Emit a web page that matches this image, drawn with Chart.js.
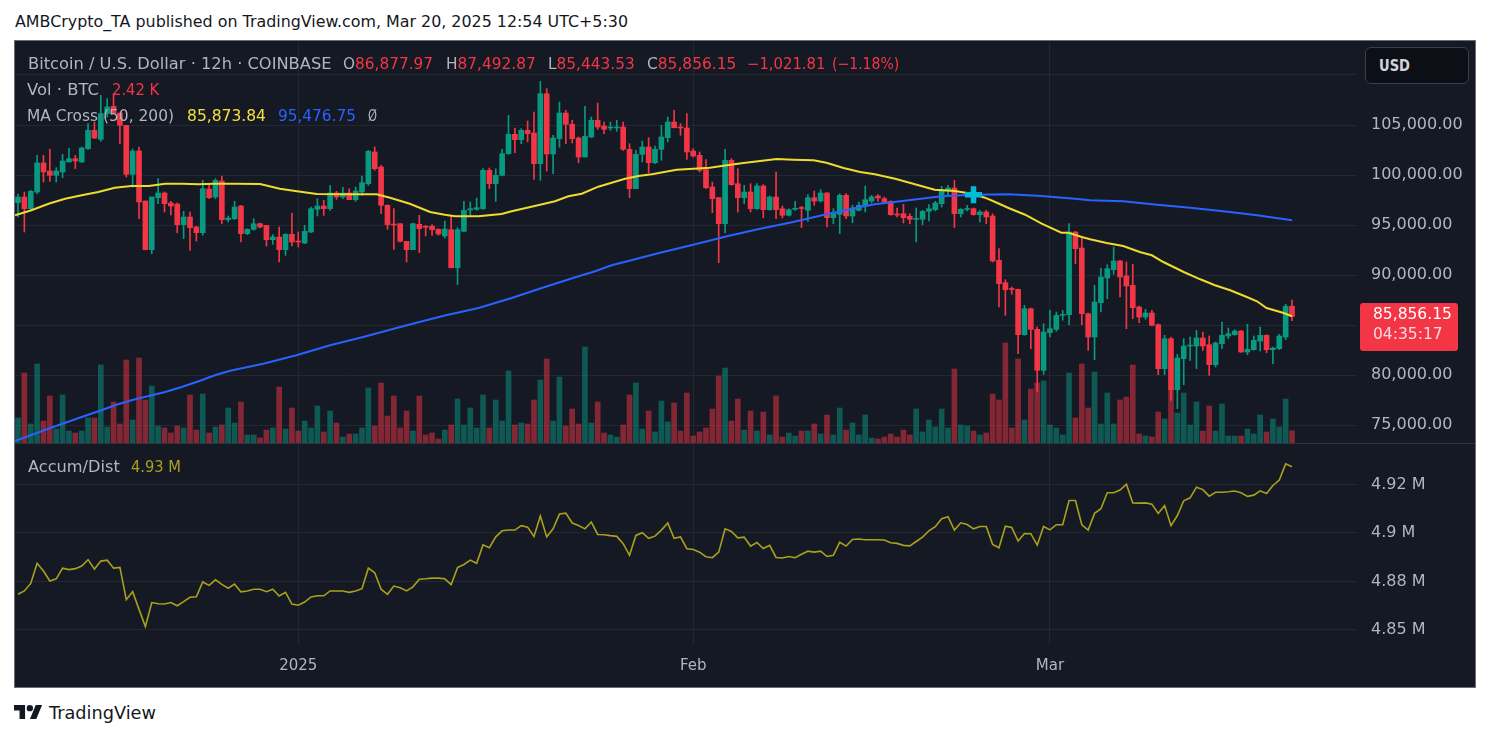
<!DOCTYPE html>
<html><head><meta charset="utf-8"><title>Bitcoin / U.S. Dollar 12h</title>
<script src="https://cdn.jsdelivr.net/npm/chart.js"></script>
<style>
html,body{margin:0;padding:0;background:#ffffff;}
body{width:1491px;height:740px;position:relative;overflow:hidden;font-family:"DejaVu Sans",sans-serif;}
.t{position:absolute;white-space:nowrap;line-height:1;transform-origin:0 50%;}
#frame{position:absolute;left:14px;top:40px;width:1462px;height:648px;box-sizing:border-box;border:1px solid #6a6d75;background:#151924;}
#c1{position:absolute;left:15px;top:42px;}
#c2{position:absolute;left:15px;top:443px;}
#sep{position:absolute;left:15px;top:443px;width:1460px;height:1px;background:#2f3340;}
#usd{position:absolute;left:1365px;top:47px;width:104px;height:37px;box-sizing:border-box;border:1px solid #3b3f4b;border-radius:6px;background:#0d0f16;}
</style></head><body>
<div id="frame"></div>
<canvas id="c1" width="1460" height="401"></canvas>
<canvas id="c2" width="1460" height="244"></canvas>
<div id="sep"></div>
<div id="usd"></div>
<svg style="position:absolute;left:14px;top:705px" width="28.5" height="14.3" viewBox="0 4 36 18"><path d="M14 22H7V11H0V4h14v18zM28 22h-8l7.5-18h8L28 22z" fill="#131722"/><circle cx="20" cy="8" r="4" fill="#131722"/></svg>
<script>
// ---------------- DATA ----------------
// 12h candles, index 0 = 10 Dec 2024 00:00 UTC ... index 200 = 20 Mar 2025 00:00 UTC
const open = [97230,97800,96630,98300,101200,100400,99970,100300,101300,101630,
101300,102630,104470,103570,106130,106870,106200,104970,100070,102400,
97400,92530,97730,98200,97200,97100,95030,95800,94800,94230,
98600,97800,99400,95530,95630,96900,94130,94570,95130,94970,
93530,93800,92530,94070,93370,93200,94300,96570,96900,96630,
98200,97800,98200,97530,98300,99130,102300,100800,96970,95070,
95130,93370,92530,95070,94800,94870,94570,93900,94530,90730,
94370,96500,96570,96630,100470,99130,99970,102130,104070,103530,
104470,104200,101130,108130,102100,103630,106200,105070,103700,101800,
103800,105470,104900,104700,104700,104800,102570,98630,102070,102800,
101230,102570,103730,105300,104730,104700,102400,101970,100530,98800,
97730,95130,101470,99130,97730,98300,96630,98900,96530,97800,
96630,95970,96570,96700,96470,97730,97400,98200,95730,96070,
97970,95900,96470,96870,97400,97900,97630,97370,96100,96130,
95870,95570,95570,96370,96530,97130,98400,98700,96130,96550,
96630,96030,96300,95900,91470,89230,88600,88570,84030,86630,
84570,80470,84230,84570,85970,86030,94300,92700,86130,83800,
87230,89700,90530,91400,89900,88970,86800,85800,86200,85030,
80630,83630,78530,81630,82900,82900,83700,83030,81030,83130,
83900,84030,84400,82300,82530,83400,83970,82530,82630,83800,
86877.97];
const high = [98100,98300,98470,101970,101970,102570,100730,102070,102700,101970,
102800,105130,105300,107970,107630,108130,106200,104970,102600,102800,
97400,97800,99630,98300,97370,97200,96370,96300,94870,99470,
99130,99630,99900,95900,97370,96970,94630,95630,95200,94970,
94030,94800,94130,96200,94300,94970,96800,97630,97470,98970,
98370,98770,98630,98800,99900,102470,102800,100970,97030,96630,
95130,93370,95200,95970,94970,95030,94630,95400,95970,94730,
97370,97300,97700,100630,100700,100630,102570,105970,104700,104630,
105400,106300,109370,108630,103970,107300,106470,105470,103800,106870,
105800,107200,105300,105300,105470,105300,103130,102470,103400,103730,
102900,104970,105800,106470,105130,106130,102630,102300,101530,99300,
97730,102570,101630,100630,98970,99130,99130,99030,97900,100300,
96900,96630,97370,96870,98030,98400,98530,98250,96630,98130,
98130,96970,97300,98900,97970,98030,97800,97430,96700,97070,
96130,96700,96470,97030,97370,98870,98970,99470,96630,96970,
96700,96470,96470,96130,92630,89530,88800,88600,86970,86700,
84800,85130,86470,86300,86470,95130,94370,93800,86200,88970,
90700,91030,92800,91470,91300,91070,86900,86570,86470,85130,
83970,83800,82070,83630,83800,84470,84300,83900,83300,85300,
84700,84530,84450,85070,83900,84800,84030,82800,84070,87070,
87492.87];
const low = [95800,94300,96470,98130,99300,99370,99300,99730,101300,100630,
101230,102570,103630,103370,105800,106130,103130,99800,98800,95630,
92500,92130,97130,96300,96000,94230,93630,92470,93400,93970,
97630,97630,95130,95300,95530,93300,94030,94470,94700,92900,
93070,91300,91970,92900,92800,93130,94230,95900,95970,96470,
97570,97630,97530,97370,97970,98970,100470,96130,94570,92570,
93300,91300,92530,92230,93900,93970,93970,93700,90700,89030,
94300,95970,96470,96570,98630,97370,99900,102070,102230,103130,
103300,99570,99470,100400,100130,102770,103130,103200,101230,101800,
103730,104570,104130,104470,104370,102470,97730,98630,101300,100230,
101130,101470,103300,104700,103970,101570,101800,100300,98630,96230,
91230,94230,98970,96300,97130,96300,96570,95730,96470,95630,
95700,95900,96470,94730,95370,96970,97300,94800,95130,94130,
95630,95230,96400,96300,97200,97370,97200,95970,95800,95200,
95130,93300,95030,95400,96400,96800,98030,94730,95800,96400,
95970,95300,95130,91300,86800,85970,88070,82130,83970,82630,
78300,80070,83800,84370,85470,85030,91130,85030,82470,81530,
86300,87630,90070,87800,84630,85630,85230,85570,84900,80030,
80030,77470,76630,79030,81470,80630,82470,79970,80800,82630,
83630,83970,82250,82030,82470,82400,82230,81130,82530,83530,
85443.53];
const close = [97800,96630,98370,101200,100300,99970,100400,101400,101630,101400,
102700,104470,103700,106130,106800,106230,104970,100070,102400,97300,
92530,97800,98200,97130,96900,95030,95800,94730,94230,98630,
97730,99470,95530,95700,96800,94130,94570,95130,94800,93530,
93800,92530,94070,93300,93300,94370,96630,96900,96630,98200,
97800,98200,97530,98400,99230,102370,100630,96970,95030,95000,
93370,92530,95130,94630,94770,94530,94100,94600,90730,94530,
96470,96630,96730,100470,99130,99970,102130,104070,103530,104470,
104130,101130,108130,102100,103700,106200,105070,103630,101800,103870,
105470,104800,104570,104750,104770,102570,98630,102070,102800,101230,
102570,103800,105300,104730,104700,102300,101900,100470,98730,97630,
95130,101470,99030,97730,98300,96630,98900,96530,97800,96530,
95970,96530,96630,96650,97730,97400,98200,95730,96200,97970,
95900,96700,96970,97530,97800,97700,97300,96030,96000,95730,
95570,95600,96370,96630,97200,98400,98700,96130,96570,96600,
96030,96300,95800,91400,89130,88530,88550,84030,86630,84570,
80470,84300,84630,85970,86030,94300,92630,86130,83800,87300,
89800,90630,91400,89800,88900,86730,85800,86200,84970,80630,
83630,78530,81700,82900,82970,83700,82900,81030,83200,83970,
84130,84400,82300,82570,83470,83970,82530,82700,83900,86877.96,
85856.15];
// volume, thousand BTC
const volume = [5.0,14.0,3.8,15.8,4.4,9.4,2.8,9.6,2.4,2.0,
2.4,5.0,5.0,15.6,3.2,8.2,3.8,16.6,4.6,17.0,
8.6,11.4,3.4,3.0,2.0,3.4,3.0,9.6,2.6,9.8,
2.0,3.2,3.6,7.0,4.0,8.2,1.6,1.6,1.0,2.6,
3.0,11.2,2.8,7.0,2.4,4.4,3.0,7.4,2.2,6.4,
4.0,1.2,1.8,1.8,3.0,11.0,3.4,12.0,5.4,9.4,
3.0,6.4,2.4,9.4,1.6,2.0,0.8,2.6,3.6,8.8,
3.6,7.0,3.0,9.6,3.0,8.6,4.4,14.4,3.6,4.0,
3.8,8.6,12.6,16.8,4.4,13.2,3.4,6.8,3.8,19.2,
4.0,8.2,2.0,1.6,1.2,3.6,9.6,12.0,2.8,6.4,
2.2,8.4,4.2,8.0,2.4,10.0,1.4,2.2,3.0,6.8,
13.4,15.0,4.4,8.8,2.6,6.4,2.4,6.2,1.6,9.4,
1.2,2.0,1.4,2.4,2.4,3.8,1.8,5.6,1.6,7.0,
2.6,4.0,1.6,5.6,1.0,0.8,1.2,1.8,1.2,2.6,
1.6,6.8,2.2,4.6,3.2,6.8,3.0,14.8,3.6,3.4,
2.4,1.6,2.0,9.8,8.6,20.0,3.0,16.8,4.6,10.8,
12.0,12.4,3.6,3.0,1.6,14.0,5.0,15.8,7.0,14.2,
3.8,10.0,3.8,8.6,9.2,15.6,1.8,1.4,1.2,6.2,
4.8,11.0,6.0,10.0,3.6,8.2,2.4,7.4,2.4,7.8,
1.4,1.4,1.4,2.8,1.8,5.6,2.2,4.8,3.2,8.8,
2.42];
// Accumulation/Distribution, millions
const accDist = [4.8747,4.8761,4.8792,4.8875,4.8843,4.8802,4.8811,4.8855,4.8849,4.8853,
4.8864,4.8890,4.8851,4.8884,4.8888,4.8855,4.8858,4.8725,4.8758,4.8685,
4.8614,4.8713,4.8708,4.8707,4.8713,4.8700,4.8717,4.8735,4.8737,4.8798,
4.8784,4.8807,4.8788,4.8772,4.8789,4.8757,4.8761,4.8768,4.8768,4.8758,
4.8768,4.8740,4.8755,4.8707,4.8702,4.8715,4.8736,4.8741,4.8741,4.8761,
4.8761,4.8761,4.8755,4.8761,4.8770,4.8855,4.8836,4.8768,4.8747,4.8781,
4.8774,4.8761,4.8778,4.8809,4.8811,4.8814,4.8814,4.8811,4.8787,4.8857,
4.8870,4.8888,4.8875,4.8951,4.8939,4.8984,4.9009,4.9012,4.9012,4.9030,
4.9024,4.8986,4.9070,4.8984,4.9017,4.9078,4.9082,4.9041,4.9031,4.9017,
4.9045,4.8994,4.8993,4.8989,4.8986,4.8956,4.8908,4.8990,4.9001,4.8978,
4.8987,4.9012,4.9041,4.8978,4.8984,4.8935,4.8932,4.8921,4.8902,4.8898,
4.8921,4.9017,4.9006,4.8980,4.8983,4.8946,4.8961,4.8936,4.8949,4.8899,
4.8897,4.8903,4.8898,4.8912,4.8925,4.8921,4.8925,4.8903,4.8908,4.8962,
4.8946,4.8973,4.8975,4.8972,4.8972,4.8972,4.8971,4.8960,4.8957,4.8949,
4.8947,4.8965,4.8983,4.9009,4.9026,4.9059,4.9067,4.9012,4.9042,4.9035,
4.9017,4.9027,4.9027,4.8953,4.8939,4.9028,4.9023,4.8967,4.8998,4.8997,
4.8950,4.9027,4.9013,4.9034,4.9034,4.9134,4.9134,4.9034,4.9012,4.9081,
4.9100,4.9166,4.9166,4.9177,4.9201,4.9124,4.9123,4.9124,4.9119,4.9081,
4.9113,4.9030,4.9072,4.9133,4.9145,4.9189,4.9179,4.9152,4.9168,4.9168,
4.9170,4.9173,4.9166,4.9151,4.9156,4.9174,4.9163,4.9196,4.9218,4.9285,
4.9273];
// MA(50) and MA(200) at candle positions
const ma50Idx = [-0.47,2.1,4.8,7.4,10,12.6,15.2,17.8,20.5,23.1,25.7,28.3,30.9,34,38,41.1,43.8,46.9,51.6,56.3,58.4,61.5,64.7,67,68.6,72.3,75.9,77.5,80.6,84.3,86.4,88.5,91.1,93.2,95.3,97.4,99.5,103.4,106,108.6,111.3,113.9,116.5,119.1,121.7,124.9,126.9,129.6,132.2,134.5,137.7,140.8,143.9,147.1,149.7,151.8,153.4,155.5,158.1,160.7,163.8,164.9,167,168.3,170.9,173.5,176.1,178,179.8,183,185.6,187.9,190.3,192.9,194.5,196,198.7,200];
const ma50Val = [95970,96470,97130,97630,97970,98300,98730,98900,98900,99130,99130,99070,99130,99130,99100,98630,98370,98100,98070,98070,97730,97130,96300,96030,95870,95870,96100,96370,96830,97370,97870,98130,98830,99230,99630,99900,100070,100530,100630,100730,100970,101200,101400,101600,101530,101470,101230,100700,100300,100070,99630,99070,98530,98400,98130,97730,97300,96700,96030,95130,94230,94230,93800,93570,93200,92900,92300,91970,91300,90300,89570,88970,88470,87800,87370,86700,86200,85873.84];
const ma200Idx = [-0.47,4.76,10,13.1,15.2,17.8,20.5,23.1,25.7,28.8,30.9,33.3,38.5,43.7,49,54.2,59.4,64.7,67,72.3,77.5,82.7,88,90.6,93.2,95.8,100.8,106,111.3,116.5,121.7,126.9,132.2,134.5,139.8,145,149.7,155.5,160.7,165.9,168.3,173.5,178.8,184,189.2,194.5,200];
const ma200Val = [73400,74630,75800,76470,76970,77470,77900,78300,78800,79470,79970,80420,81130,81970,82970,83800,84700,85570,85950,86700,87700,88800,89870,90370,90970,91400,92230,93030,93870,94630,95300,96070,96800,97070,97470,97870,98030,98070,97900,97630,97470,97370,97030,96730,96370,95970,95476.75];
// MA cross marker
const crossIdx = [150];
const crossPrice = [98030];
// axes
const priceTicks = [75000,80000,85000,90000,95000,100000,105000,110000];
const adTicks = [4.92,4.90,4.88,4.86];
const adTickLabels = ['4.92 M','4.9 M','4.88 M','4.85 M'];
const timeTickIdx = [44,106,162];
const timeLabels = ['2025','Feb','Mar'];
const countdown = '04:35:17';

// ---------------- STYLE ----------------
const xMin = -0.47, xMax = 210.2;
const GRID = '#232732', AXIS_TXT = '#b2b5be', LEG = '#b2b5be';
const GREEN = '#089981', RED = '#f23645';
const GREEN_V = 'rgba(8,153,129,0.5)', RED_V = 'rgba(242,54,69,0.5)';
const MA50_C = '#efda2f', MA200_C = '#2962ff', AD_C = '#aaa01d', CROSS_C = '#00bcd4';
const FONT = 'DejaVu Sans';

const N = close.length;
const isUp = i => close[i] >= open[i];
const fmt = v => v.toLocaleString('en-US', {minimumFractionDigits: 2, maximumFractionDigits: 2});
const sgn = s => s.replace('-', '\u2212');
const noPad = s => { s.paddingTop = 0; s.paddingBottom = 0; s.paddingLeft = 0; s.paddingRight = 0; };

const lastPriceTag = {
  id: 'lastPriceTag',
  afterDraw(chart) {
    const ctx = chart.ctx, ys = chart.scales.y;
    const yy = ys.getPixelForValue(close[N - 1]);
    const x0 = chart.chartArea.right + 3;
    ctx.save();
    ctx.fillStyle = RED;
    ctx.beginPath();
    if (ctx.roundRect) ctx.roundRect(x0, yy - 13.5, 98, 48, 3); else ctx.rect(x0, yy - 13.5, 98, 48);
    ctx.fill();
    ctx.font = '15.5px "' + FONT + '"';
    ctx.textBaseline = 'middle'; ctx.textAlign = 'left';
    ctx.fillStyle = '#ffffff';
    ctx.fillText(fmt(close[N - 1]), x0 + 13, yy - 1);
    ctx.fillStyle = 'rgba(255,255,255,0.82)';
    ctx.fillText(countdown, x0 + 13, yy + 18.5);
    ctx.restore();
  }
};

const baseOpts = {
  responsive: false, animation: false, devicePixelRatio: 1, events: [],
  plugins: {legend: {display: false}, tooltip: {enabled: false}}
};

new Chart(document.getElementById('c1'), {
  type: 'bar',
  data: {datasets: [
    {type: 'bar', data: volume.map((v, i) => ({x: i, y: v})), yAxisID: 'yVol',
     backgroundColor: c => isUp(c.dataIndex) ? GREEN_V : RED_V, barThickness: 5, grouped: false, order: 6},
    {type: 'bar', data: low.map((v, i) => ({x: i, y: [v, high[i]]})), yAxisID: 'y',
     backgroundColor: c => isUp(c.dataIndex) ? GREEN : RED, barThickness: 1, grouped: false, order: 5},
    {type: 'bar', data: open.map((v, i) => ({x: i, y: [v, close[i]]})), yAxisID: 'y',
     backgroundColor: c => isUp(c.dataIndex) ? GREEN : RED, barThickness: 5, minBarLength: 1, grouped: false, order: 4},
    {type: 'line', data: ma200Idx.map((x, k) => ({x, y: ma200Val[k]})), yAxisID: 'y',
     borderColor: MA200_C, borderWidth: 2, pointRadius: 0, pointHoverRadius: 0, order: 3},
    {type: 'line', data: ma50Idx.map((x, k) => ({x, y: ma50Val[k]})), yAxisID: 'y',
     borderColor: MA50_C, borderWidth: 2, pointRadius: 0, pointHoverRadius: 0, order: 2},
    {type: 'line', data: crossIdx.map((x, k) => ({x, y: crossPrice[k]})), yAxisID: 'y', showLine: false,
     pointStyle: 'cross', pointRadius: 8.5, pointHoverRadius: 8.5, pointBorderWidth: 5.5, pointBorderColor: CROSS_C, borderColor: CROSS_C, order: 1}
  ]},
  options: Object.assign({}, baseOpts, {
    layout: {padding: 0, autoPadding: false},
    scales: {
      x: {type: 'linear', min: xMin, max: xMax, offset: false,
          afterBuildTicks: s => { s.ticks = timeTickIdx.map(v => ({value: v})); },
          afterFit: s => { s.height = 0; noPad(s); },
          ticks: {display: false}, grid: {color: GRID, drawTicks: false, offset: false}, border: {display: false}},
      y: {type: 'linear', position: 'right', min: 73200, max: 113300,
          afterBuildTicks: s => { s.ticks = priceTicks.map(v => ({value: v})); },
          afterFit: s => { s.width = 118; noPad(s); },
          ticks: {color: AXIS_TXT, font: {family: FONT, size: 16}, padding: 14, callback: v => fmt(v)},
          grid: {color: GRID, drawTicks: false}, border: {display: false}},
      yVol: {type: 'linear', display: false, min: 0, max: 80.2, afterFit: s => { noPad(s); }}
    }
  }),
  plugins: [lastPriceTag]
});

new Chart(document.getElementById('c2'), {
  type: 'line',
  data: {datasets: [
    {data: accDist.map((v, i) => ({x: i, y: v})), yAxisID: 'yAD', borderColor: AD_C, borderWidth: 1.6, pointRadius: 0, pointHoverRadius: 0}
  ]},
  options: Object.assign({}, baseOpts, {
    layout: {padding: {top: 1}, autoPadding: false},
    scales: {
      x: {type: 'linear', min: xMin, max: xMax, offset: false,
          afterBuildTicks: s => { s.ticks = timeTickIdx.map(v => ({value: v})); },
          afterFit: s => { s.height = 42; noPad(s); },
          ticks: {color: AXIS_TXT, font: {family: FONT, size: 15}, padding: 12, autoSkip: false, maxRotation: 0, minRotation: 0,
                  callback: (v, i) => timeLabels[i]},
          grid: {color: GRID, drawTicks: false}, border: {display: false}},
      yAD: {type: 'linear', position: 'right', min: 4.8538, max: 4.9367,
          afterBuildTicks: s => { s.ticks = adTicks.map(v => ({value: v})); },
          afterFit: s => { s.width = 118; noPad(s); },
          ticks: {color: AXIS_TXT, font: {family: FONT, size: 16}, padding: 14, callback: (v, i) => adTickLabels[i]},
          grid: {color: GRID, drawTicks: false}, border: {display: false}}
    }
  })
});

// ---------------- TEXT ----------------
const fitList = [];
function addText(parts, left, right, cy, size, weight) {
  const el = document.createElement('div');
  el.className = 't';
  el.style.left = left + 'px';
  el.style.top = (cy - size / 2) + 'px';
  el.style.fontSize = size + 'px';
  if (weight) el.style.fontWeight = weight;
  parts.forEach(([txt, color]) => {
    const s = document.createElement('span');
    s.textContent = txt; s.style.color = color; el.appendChild(s);
  });
  document.body.appendChild(el);
  fitList.push([el, right - left]);
}
const chg = close[N - 1] - close[N - 2];
const pct = chg / close[N - 2] * 100;
const candleCol = isUp(N - 1) ? GREEN : RED;

addText([['AMBCrypto_TA published on TradingView.com, Mar 20, 2025 12:54 UTC+5:30', '#131722']], 15, 628, 22, 16);
addText([['Bitcoin / U.S. Dollar \u00b7 12h \u00b7 COINBASE', LEG]], 27.5, 331, 64.3, 15);
addText([['O', LEG], [fmt(open[N - 1]), candleCol]], 343.3, 433.3, 64.3, 15);
addText([['H', LEG], [fmt(high[N - 1]), candleCol]], 446, 535.7, 64.3, 15);
addText([['L', LEG], [fmt(low[N - 1]), candleCol]], 548.3, 635, 64.3, 15);
addText([['C', LEG], [fmt(close[N - 1]), candleCol]], 646.7, 736, 64.3, 15);
addText([[sgn(fmt(chg)), candleCol]], 747.3, 825.7, 64.3, 15);
addText([['(' + sgn(pct.toFixed(2)) + '%)', candleCol]], 831.7, 899, 64.3, 15);
addText([['Vol \u00b7 BTC', LEG]], 27.3, 99.3, 90.3, 15);
addText([[volume[N - 1].toFixed(2) + ' K', candleCol]], 111.7, 159, 90.3, 15);
addText([['MA Cross (50, 200)', LEG]], 27.3, 174.3, 116, 15);
addText([[fmt(ma50Val[ma50Val.length - 1]), '#f5e03a']], 186.7, 265.7, 116, 15);
addText([[fmt(ma200Val[ma200Val.length - 1]), MA200_C]], 277.7, 355.7, 116, 15);
addText([['\u00d8', LEG]], 367.7, 376.7, 116, 15);
addText([['Accum/Dist', LEG]], 27.6, 119.4, 467, 15);
addText([[accDist[N - 1].toFixed(2) + ' M', AD_C]], 131.2, 181.2, 467, 15);
addText([['USD', '#d1d4dc']], 1379, 1410, 66, 15, 'bold');
addText([['TradingView', '#131722']], 49, 156, 713, 18);

function fitAll() {
  fitList.forEach(([el, w]) => {
    el.style.transform = 'none';
    const r = el.getBoundingClientRect().width;
    if (r > 0) el.style.transform = 'scaleX(' + (w / r) + ')';
  });
}
fitAll();
if (document.fonts && document.fonts.ready) document.fonts.ready.then(fitAll);
</script>
</body></html>
